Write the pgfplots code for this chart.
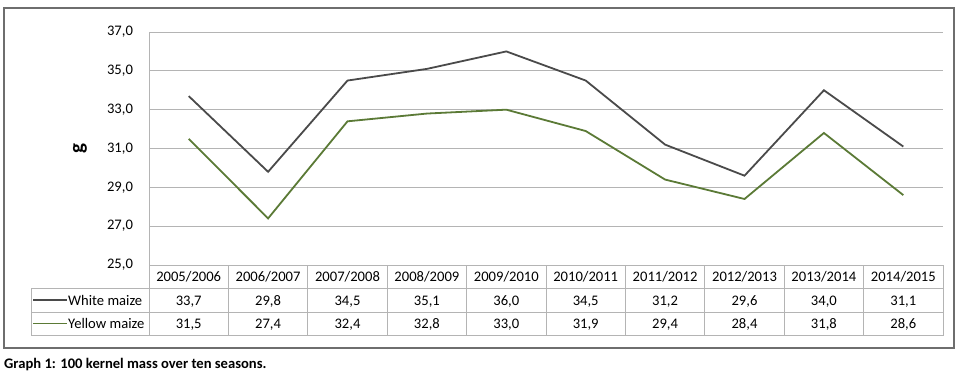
\documentclass[border=0pt]{standalone}
\usepackage{pgfplots}
\pgfplotsset{compat=1.18}
\usepackage{pgfplotstable}
\usepackage{fontspec}
\setmainfont{Carlito}
\definecolor{whiteline}{HTML}{4A4A4A}
\definecolor{yellowline}{HTML}{5B7A36}
\definecolor{gridc}{HTML}{B4B4B4}
\definecolor{boxc}{HTML}{6E6E6E}
\pgfplotstableread{
x white yellow
0 33.7 31.5
1 29.8 27.4
2 34.5 32.4
3 35.1 32.8
4 36.0 33.0
5 34.5 31.9
6 31.2 29.4
7 29.6 28.4
8 34.0 31.8
9 31.1 28.6
}\datatable
\begin{document}
\fontsize{14.6pt}{17pt}\selectfont
\begin{tikzpicture}[x=1pt,y=-1pt]
\useasboundingbox (0,0) rectangle (960,376);
\begin{axis}[
  at={(149pt,-265pt)}, anchor=south west,
  scale only axis, width=794pt, height=233pt,
  xmin=-0.5, xmax=9.5, ymin=25, ymax=37,
  ytick={25,27,...,37},
  xtick={0,...,9},
  xticklabels={2005/2006,2006/2007,2007/2008,2008/2009,2009/2010,2010/2011,2011/2012,2012/2013,2013/2014,2014/2015},
  xticklabel style={anchor=base, yshift=-16.5pt, font=\fontsize{14.6pt}{17pt}\selectfont},
  yticklabel style={anchor=east, xshift=-11pt, font=\fontsize{14.6pt}{17pt}\selectfont},
  major tick length=0pt,
  axis lines*=left,
  x axis line style={draw=none},
  y axis line style={draw=gridc, line width=0.9pt, -},
  ymajorgrids, grid style={draw=gridc, line width=0.9pt},
  /pgf/number format/.cd, fixed, fixed zerofill, precision=1, use comma, assume math mode=true,
]
\addplot[whiteline, line width=1.8pt, no marks] table[x=x, y=white] {\datatable};
\addplot[yellowline, line width=1.8pt, no marks] table[x=x, y=yellow] {\datatable};
\end{axis}
% y label
\node[rotate=90, inner sep=0pt] at (80,149) {\fontsize{21pt}{24pt}\selectfont\bfseries g};
% data table grid
\draw[gridc, line width=0.9pt] (31,288) -- (943,288) (31,312) -- (943,312) (31,335.5) -- (943,335.5);
\draw[gridc, line width=0.9pt] (31,288) -- (31,335.5) (149,265) -- (149,335.5);
\foreach \k in {1,...,10} {\draw[gridc, line width=0.9pt] ({149+79.4*\k},265) -- ({149+79.4*\k},335.5);}
% legend keys
\draw[whiteline, line width=1.8pt] (33,300) -- (67,300);
\draw[yellowline, line width=1.8pt] (33,323.5) -- (67,323.5);
\node[anchor=base west, inner sep=0pt] at (68,305) {White maize};
\node[anchor=base west, inner sep=0pt] at (68,328.5) {Yellow maize};
\foreach \v [count=\i from 0] in {{33,7},{29,8},{34,5},{35,1},{36,0},{34,5},{31,2},{29,6},{34,0},{31,1}}
  {\node[anchor=base, inner sep=0pt] at ({149+79.4*(\i+0.5)},305) {\v};}
\foreach \v [count=\i from 0] in {{31,5},{27,4},{32,4},{32,8},{33,0},{31,9},{29,4},{28,4},{31,8},{28,6}}
  {\node[anchor=base, inner sep=0pt] at ({149+79.4*(\i+0.5)},328.5) {\v};}
% outer frame
\draw[boxc, line width=1.6pt] (4,8) rectangle (954,348);
% caption
\node[anchor=base west, inner sep=0pt] at (4,368) {\fontsize{14.6pt}{16pt}\selectfont\bfseries Graph 1: 100 kernel mass over ten seasons.};
\end{tikzpicture}
\end{document}
